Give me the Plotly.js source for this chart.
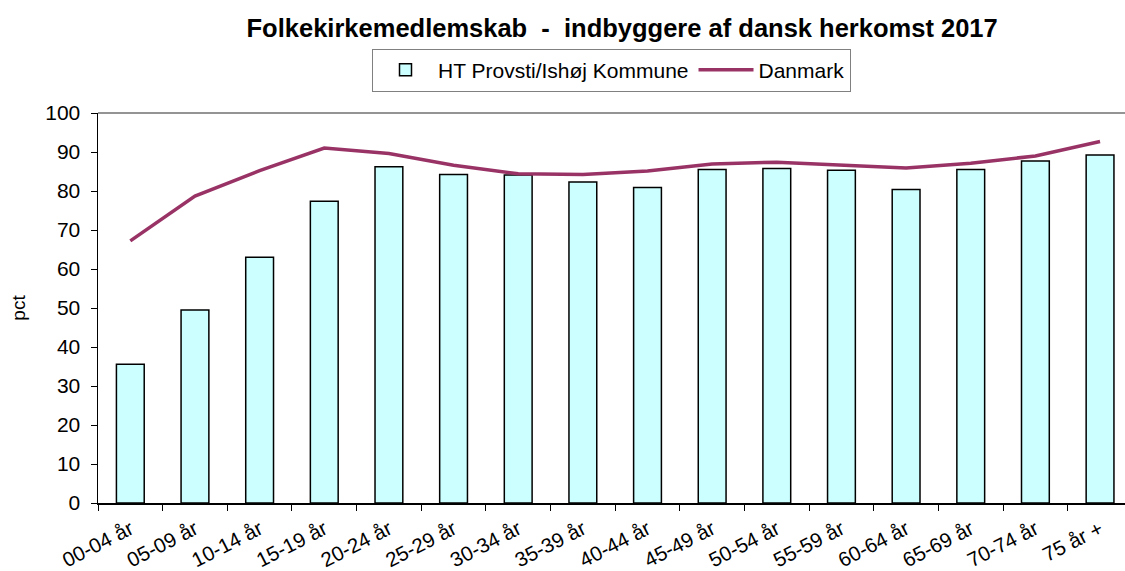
<!DOCTYPE html>
<html>
<head>
<meta charset="utf-8">
<script src="https://cdn.plot.ly/plotly-3.0.1.min.js"></script>
<style>html,body{margin:0;padding:0;background:#fff;}#chart{width:1125px;height:571px;}</style>
</head>
<body>
<div id="chart"></div>
<script>
const categories = ["00-04 år","05-09 år","10-14 år","15-19 år","20-24 år","25-29 år","30-34 år","35-39 år","40-44 år","45-49 år","50-54 år","55-59 år","60-64 år","65-69 år","70-74 år","75 år +"];
const htProvsti = [35.6, 49.5, 63.0, 77.4, 86.2, 84.2, 84.1, 82.3, 80.9, 85.5, 85.8, 85.3, 80.4, 85.5, 87.7, 89.2];
const danmark = [67.2, 78.7, 85.2, 91.0, 89.6, 86.6, 84.4, 84.2, 85.1, 86.9, 87.4, 86.7, 85.9, 87.1, 89.0, 92.7];
const yTicks = [0,10,20,30,40,50,60,70,80,90,100];

const font = "Liberation Sans, Arial, sans-serif";
const data = [
  {type:"bar", name:"HT Provsti/Ishøj Kommune", x:categories, y:htProvsti,
   marker:{color:"#CCFFFF", line:{color:"#000000", width:1.5}}},
  {type:"scatter", mode:"lines", name:"Danmark", x:categories, y:danmark,
   line:{color:"#993366", width:3.5}}
];
const layout = {
  width:1125, height:571,
  margin:{l:98, r:0, t:113, b:68},
  paper_bgcolor:"#fff", plot_bgcolor:"#fff",
  font:{family:font, size:21, color:"#000"},
  bargap:0.57,
  title:{text:"Folkekirkemedlemskab\u00a0 - \u00a0indbyggere af dansk herkomst 2017",
         font:{family:font, size:25.5, color:"#000", weight:"bold"},
         x:0.553, xanchor:"center", y:0.951, yanchor:"middle"},
  showlegend:true,
  legend:{orientation:"h", x:0.5, xanchor:"center", y:1.165, yanchor:"top",
          bordercolor:"#808080", borderwidth:1, font:{family:font, size:21},
          itemwidth:55, tracegroupgap:0, traceorder:"normal"},
  xaxis:{type:"category", range:[-0.5, 15.386], tickson:"boundaries",
         ticks:"outside", ticklen:6, tickcolor:"#000", tickangle:-27,
         ticklabelstandoff:5,
         showline:true, linecolor:"#000", linewidth:1.5, showgrid:false,
         tickfont:{family:font, size:20.5}, fixedrange:true},
  yaxis:{range:[0,100], tickvals:yTicks, ticks:"outside", ticklen:6, tickcolor:"#000",
         ticklabelstandoff:6,
         showline:true, linecolor:"#000", linewidth:1.5, showgrid:false, zeroline:false,
         tickfont:{family:font, size:21},
         title:{text:"pct", font:{family:font, size:19}, standoff:14}},
  shapes:[{type:"line", xref:"paper", yref:"paper", x0:0, x1:1, y0:1, y1:1,
           line:{color:"#707070", width:1.5}}]
};
Plotly.newPlot("chart", data, layout, {displayModeBar:false, staticPlot:true});
</script>
</body>
</html>
